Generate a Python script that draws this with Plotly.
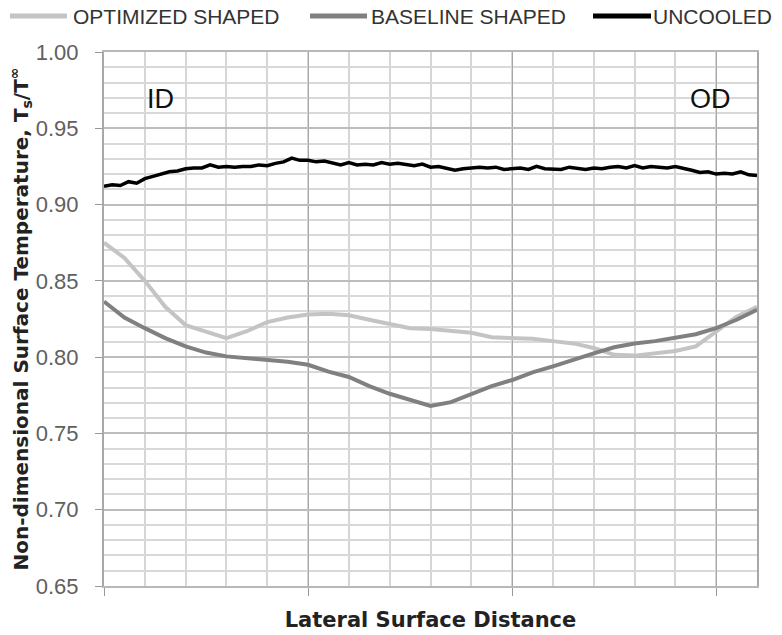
import plotly.graph_objects as go

# Lateral position (arbitrary units, 0..3.2)
x_unc = [round(i * 0.04, 2) for i in range(81)]
uncooled = [0.912, 0.913, 0.9125, 0.915, 0.914, 0.917, 0.9185, 0.920, 0.9215, 0.922,
            0.9235, 0.924, 0.924, 0.926, 0.9245, 0.925, 0.9245, 0.925, 0.925, 0.926,
            0.9255, 0.927, 0.928, 0.9305, 0.929, 0.929, 0.928, 0.9285, 0.927, 0.926,
            0.9275, 0.926, 0.9265, 0.926, 0.9275, 0.9265, 0.927, 0.926, 0.9255, 0.9265,
            0.9245, 0.925, 0.924, 0.9225, 0.9235, 0.924, 0.9245, 0.924, 0.9245, 0.923,
            0.9235, 0.924, 0.923, 0.925, 0.9235, 0.9235, 0.923, 0.9245, 0.924, 0.923,
            0.924, 0.9235, 0.9245, 0.925, 0.924, 0.9255, 0.924, 0.925, 0.9245, 0.924,
            0.925, 0.924, 0.9225, 0.921, 0.9215, 0.920, 0.9205, 0.920, 0.9215, 0.9195,
            0.919]

x_shaped = [round(i * 0.1, 1) for i in range(33)]
optimized = [0.875, 0.865, 0.850, 0.833, 0.821, 0.8165, 0.8125, 0.817, 0.823, 0.826,
             0.828, 0.8285, 0.8275, 0.8245, 0.822, 0.819, 0.8185, 0.8175, 0.816, 0.813,
             0.8125, 0.812, 0.8105, 0.809, 0.806, 0.8015, 0.801, 0.8025, 0.804, 0.807,
             0.817, 0.8265, 0.833]
baseline = [0.8365, 0.826, 0.819, 0.8125, 0.807, 0.803, 0.8005, 0.7995, 0.798, 0.797,
            0.795, 0.7905, 0.787, 0.781, 0.776, 0.772, 0.768, 0.7705, 0.7755, 0.781,
            0.785, 0.790, 0.794, 0.7985, 0.8025, 0.8065, 0.809, 0.8105, 0.8125, 0.815,
            0.819, 0.8245, 0.831]

series_names = ["OPTIMIZED SHAPED", "BASELINE SHAPED", "UNCOOLED"]
series_colors = ["#c4c4c4", "#808080", "#000000"]

y_ticks = [0.65, 0.70, 0.75, 0.80, 0.85, 0.90, 0.95, 1.00]
y_ticktext = ["%.2f" % v for v in y_ticks]
x_major = [0, 1, 2, 3]

fig = go.Figure()
fig.add_trace(go.Scatter(x=x_shaped, y=optimized, mode="lines", name=series_names[0],
                         line=dict(color=series_colors[0], width=4)))
fig.add_trace(go.Scatter(x=x_shaped, y=baseline, mode="lines", name=series_names[1],
                         line=dict(color=series_colors[1], width=4)))
fig.add_trace(go.Scatter(x=x_unc, y=uncooled, mode="lines", name=series_names[2],
                         line=dict(color=series_colors[2], width=3.5)))

# Legend drawn along the top (Excel style: long line samples)
leg_line_x = [(-0.144, -0.0567), (0.3155, 0.4028), (0.7489, 0.8377)]
leg_text_x = [-0.049, 0.4074, 0.8392]
leg_y = 1.0674
for name, col, (xa, xb), xt in zip(series_names, series_colors, leg_line_x, leg_text_x):
    fig.add_shape(type="line", xref="paper", yref="paper", x0=xa, x1=xb, y0=leg_y, y1=leg_y,
                  line=dict(color=col, width=5))
    fig.add_annotation(xref="paper", yref="paper", x=xt, y=leg_y, text=name, showarrow=False,
                       xanchor="left", yanchor="middle", borderpad=0,
                       font=dict(family="Liberation Sans", size=21, color="#333"))

fig.add_annotation(x=0.275, y=0.969, text="ID", showarrow=False,
                   font=dict(family="Liberation Sans", size=27, color="#111"))
fig.add_annotation(x=2.97, y=0.969, text="OD", showarrow=False,
                   font=dict(family="Liberation Sans", size=27, color="#111"))

fig.update_layout(
    width=782, height=635,
    margin=dict(l=104, r=25, t=52, b=49, autoexpand=False),
    paper_bgcolor="white", plot_bgcolor="white",
    showlegend=False,
    xaxis=dict(range=[0, 3.2], tickvals=x_major, showticklabels=False,
               ticks="outside", ticklen=8, tickcolor="#999", tickwidth=1,
               showgrid=True, gridcolor="#a6a6a6", gridwidth=1,
               minor=dict(dtick=0.2, tick0=0, showgrid=True, gridcolor="#d6d6d6", gridwidth=2),
               showline=True, linecolor="#b8b8b8", linewidth=2, mirror=True, zeroline=False,
               automargin=False,
               title=dict(text="<b>Lateral Surface Distance</b>", standoff=17,
                          font=dict(family="DejaVu Sans", size=21, color="#222"))),
    yaxis=dict(range=[0.65, 1.0], tickvals=y_ticks, ticktext=y_ticktext,
               ticks="outside", ticklen=7, tickcolor="#999", tickwidth=1,
               ticklabelstandoff=12,
               tickfont=dict(family="Liberation Sans", size=22, color="#606060"),
               showgrid=True, gridcolor="#bdbdbd", gridwidth=2,
               minor=dict(dtick=0.01, tick0=0.65, showgrid=True, gridcolor="#d9d9d9", gridwidth=2),
               showline=True, linecolor="#a8a8a8", linewidth=2, mirror=True, zeroline=False,
               automargin=False,
               title=dict(text="<b>Non-dimensional Surface Temperature, T<sub>s</sub>/T<sup>∞</sup></b>",
                          standoff=2,
                          font=dict(family="DejaVu Sans", size=20, color="#222"))),
)

fig.write_html("out.html", config={"displayModeBar": False},
               post_script="document.body.style.margin='0';")
